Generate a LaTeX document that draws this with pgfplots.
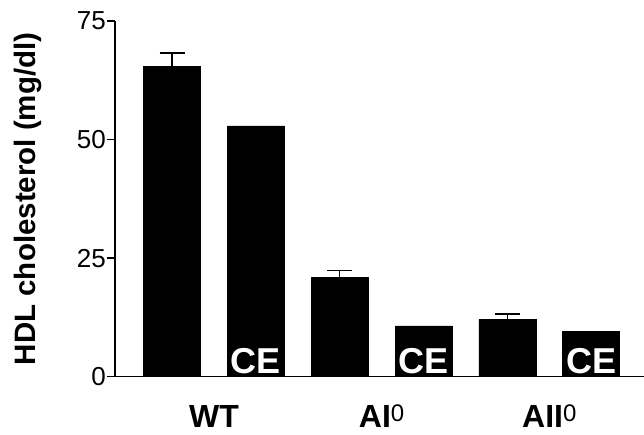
\documentclass[border=0pt]{standalone}
\usepackage{fontspec}
\setmainfont{Liberation Sans}
\usepackage{pgfplots}
\pgfplotsset{compat=1.18}
\begin{document}
\begin{tikzpicture}
\begin{axis}[
  scale only axis, width=529pt, height=355.7pt,
  xmin=0.32, xmax=6.63, ymin=0, ymax=75,
  axis x line*=bottom, axis y line*=left,
  axis line style={-, line width=1.3pt},
  ytick={0,25,50,75},
  xtick={1.5,3.5,5.5},
  xticklabels={WT, AI{\fontsize{24}{24}\selectfont\mdseries\raisebox{6pt}{0}}, AII{\fontsize{24}{24}\selectfont\mdseries\raisebox{6pt}{0}}},
  xtick style={draw=none},
  major tick length=8pt,
  tick align=outside,
  ytick style={line width=1.3pt, black},
  /pgf/number format/assume math mode=true,
  yticklabel style={font=\fontsize{26}{26}\selectfont, inner sep=1pt},
  xticklabel style={font=\fontsize{32}{32}\selectfont\bfseries, anchor=base, yshift=-43pt, inner sep=0pt},
  ylabel={HDL cholesterol (mg/dl)},
  ylabel shift=31pt,
  ylabel style={font=\fontsize{29.5}{30}\selectfont\bfseries},
]
\addplot[ybar, bar shift=0pt, bar width=0.68, fill=black, draw=black,
  error bars/.cd, y dir=plus, y explicit, error mark=|,
  error bar style={line width=1.6pt, black},
  error mark options={line width=1.6pt, mark size=12.5pt, black}]
  coordinates {(1,65.5) +- (0,2.8) (3,20.9) +- (0,1.5) (5,12.1) +- (0,1.1)};
\addplot[ybar, bar shift=0pt, bar width=0.68, fill=black, draw=black]
  coordinates {(2,52.9) (4,10.7) (6,9.6)};
\addplot[draw=none, mark=none, nodes near coords={CE},
  every node near coord/.style={anchor=base, yshift=3.5pt, inner sep=0pt, text=white, font=\fontsize{36}{36}\selectfont\bfseries}]
  coordinates {(2,0) (4,0) (6,0)};
\end{axis}
\pgfresetboundingbox
\useasboundingbox (-115pt,-57.3pt) rectangle (529pt,376.7pt);
\end{tikzpicture}
\end{document}
